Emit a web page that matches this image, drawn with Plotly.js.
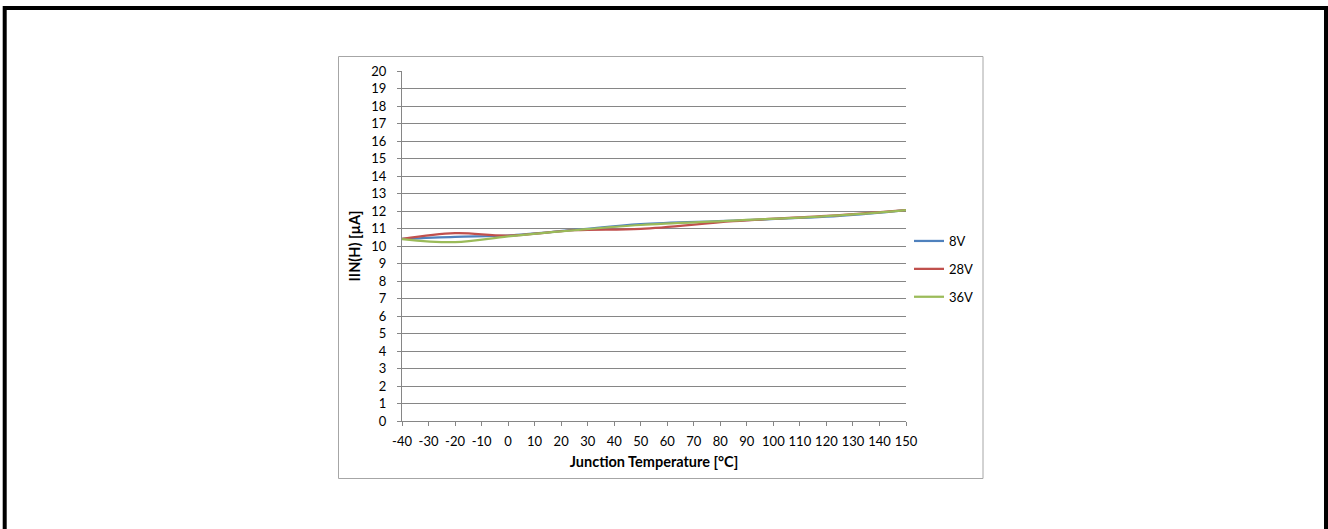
<!DOCTYPE html>
<html>
<head>
<meta charset="utf-8">
<script src="https://cdn.plot.ly/plotly-3.0.1.min.js"></script>
<style>
html,body{margin:0;padding:0;background:#fff;}
#chart{width:1328px;height:529px;}
</style>
</head>
<body>
<div id="chart"></div>
<script>
// Data
const temperatures = [-40, -20, 0, 25, 50, 85, 125, 150];
const iin_8V  = [10.40, 10.52, 10.60, 10.92, 11.25, 11.45, 11.72, 12.05];
const iin_28V = [10.40, 10.73, 10.60, 10.90, 10.98, 11.42, 11.77, 12.05];
const iin_36V = [10.40, 10.22, 10.55, 10.90, 11.20, 11.45, 11.75, 12.05];
const seriesNames = ['8V', '28V', '36V'];
const seriesColors = ['#4F81BD', '#C0504D', '#9BBB59'];
const xTickVals = [-40, -30, -20, -10, 0, 10, 20, 30, 40, 50, 60, 70, 80, 90, 100, 110, 120, 130, 140, 150];
const xTickText = ['-40', '-30', '-20', '-10', '0', '10', '20', '30', '40', '50', '60', '70', '80', '90', '100', '110', '120', '130', '140', '150'];
const xTitle = 'Junction Temperature [°C]';
const yTitle = 'IIN(H) [µA]';

const W = 1328, H = 529;
const L = 402, R = 422, T = 71, B = 108;
const pw = W - L - R, ph = H - T - B;
const px = v => (v - L) / pw;
const py = v => (H - B - v) / ph;

const allY = [iin_8V, iin_28V, iin_36V];
const traces = allY.map((ys, i) => ({
  x: temperatures,
  y: ys,
  type: 'scatter',
  mode: 'lines',
  name: seriesNames[i],
  legendgroup: 'g' + i,
  line: {color: seriesColors[i], width: 2.25, shape: 'spline', smoothing: 1},
  hoverinfo: 'x+y+name'
}));

const font = {family: 'Lato, "Noto Sans", sans-serif', size: 13, color: '#000'};
const titleFont = {family: 'Lato, "Noto Sans", sans-serif', size: 14.5, color: '#000'};
const axisGrey = '#868686';

const layout = {
  width: W, height: H,
  margin: {l: L, r: R, t: T, b: B, pad: 0},
  paper_bgcolor: '#fff',
  plot_bgcolor: '#fff',
  font: font,
  showlegend: true,
  legend: {
    x: px(909), xanchor: 'left',
    y: py(269), yanchor: 'middle',
    traceorder: 'grouped',
    tracegroupgap: 8,
    font: font,
    bgcolor: 'rgba(0,0,0,0)',
    borderwidth: 0,
    itemwidth: 30
  },
  xaxis: {
    range: [-40, 150],
    tickmode: 'array', tickvals: xTickVals, ticktext: xTickText,
    showgrid: false,
    zeroline: false,
    showline: true, linecolor: axisGrey, linewidth: 1,
    ticks: 'outside', ticklen: 4, tickcolor: axisGrey, tickwidth: 1,
    tickfont: font,
    ticklabelstandoff: 4,
    title: {text: '<b>' + xTitle + '</b>', font: titleFont, standoff: 9},
    automargin: false,
    fixedrange: true
  },
  yaxis: {
    range: [0, 20],
    tick0: 0, dtick: 1,
    showgrid: true, gridcolor: axisGrey, gridwidth: 1,
    zeroline: false,
    showline: true, linecolor: axisGrey, linewidth: 1,
    ticks: 'outside', ticklen: 4, tickcolor: axisGrey, tickwidth: 1,
    tickfont: font,
    ticklabelstandoff: 8,
    title: {text: '<b>' + yTitle + '</b>', font: titleFont, standoff: 7},
    automargin: false,
    fixedrange: true
  },
  shapes: [
    {type: 'rect', xref: 'paper', yref: 'paper', layer: 'below',
     x0: px(338.5), x1: px(983), y0: py(478.5), y1: py(56.5),
     line: {color: '#a6a6a6', width: 1}, fillcolor: 'rgba(0,0,0,0)'},
    {type: 'rect', xref: 'paper', yref: 'paper', layer: 'above',
     x0: px(4.7), x1: px(1326), y0: py(560), y1: py(8),
     line: {color: '#000', width: 4}, fillcolor: 'rgba(0,0,0,0)'}
  ]
};

Plotly.newPlot('chart', traces, layout, {displayModeBar: false, staticPlot: false});
</script>
</body>
</html>
